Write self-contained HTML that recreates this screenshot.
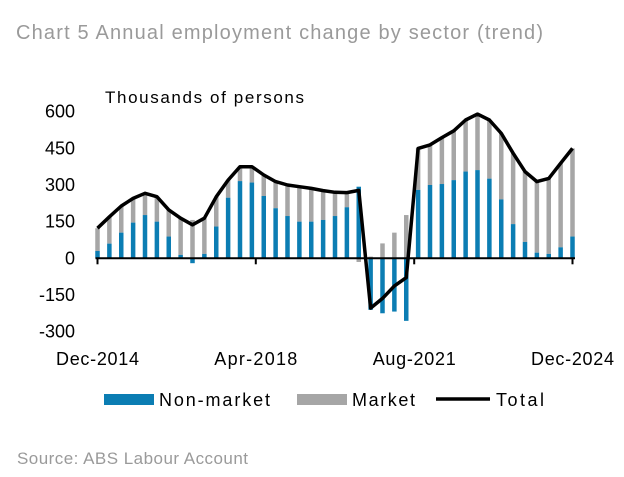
<!DOCTYPE html>
<html><head><meta charset="utf-8"><style>
body{margin:0;background:#fff}
svg{display:block;font-family:"Liberation Sans",sans-serif}
</style></head><body>
<svg id="chart" width="624" height="477" viewBox="0 0 624 477">
<text x="16" y="39" font-size="20" fill="#9a9a9a" textLength="527">Chart 5 Annual employment change by sector (trend)</text>
<text x="105" y="103" font-size="17" fill="#000" textLength="199">Thousands of persons</text>
<g id="bars"></g>
<g id="axes"></g>
<g id="legend">
<rect x="104" y="394" width="50" height="11" fill="#0b7db3"/>
<text x="159" y="406" font-size="18" textLength="111">Non-market</text>
<rect x="297" y="394" width="50" height="11" fill="#a6a6a6"/>
<text x="352" y="406" font-size="18" textLength="63">Market</text>
<line x1="436" y1="399" x2="490" y2="399" stroke="#000" stroke-width="3.5"/>
<text x="496" y="406" font-size="18" textLength="48">Total</text>
</g>
<text x="17" y="464" font-size="17" fill="#9a9a9a" textLength="231">Source: ABS Labour Account</text>
</svg>
<script>
const nonMarket=[30,60,105,146,177,150,89,14,-20,18,130,248,316,310,255,205,173,150,150,157,173,209,293,-211,-225,-218,-256,280,300,304,320,355,361,326,241,140,67,23,18,45,89];
const market=[93,110,109,99,89,102,109,150,157,146,122,72,59,65,86,109,127,143,136,120,97,60,-15,7,61,105,177,170,164,190,202,211,229,240,270,290,288,291,309,344,361];
const yTicks=[600,450,300,150,0,-150,-300];
const xLabels=["Dec-2014","Apr-2018","Aug-2021","Dec-2024"];
const xLabelIdx=[0,13.33,26.67,40];
const NS="http://www.w3.org/2000/svg";
const x0=97.5,x1=572.5,n=nonMarket.length;
function xs(i){return x0+i*(x1-x0)/(n-1);}
function ys(v){return 258.3-v*(36.65/150);}
function mk(tag,attrs,parent){const e=document.createElementNS(NS,tag);for(const k in attrs)e.setAttribute(k,attrs[k]);parent.appendChild(e);return e;}
const bars=document.getElementById('bars'),axes=document.getElementById('axes');
const bw=4.5;
for(let i=0;i<n;i++){
  const nm=nonMarket[i],m=market[i];
  let nb0=0,nb1=nm,mb0,mb1;
  if((nm>=0)===(m>=0)){mb0=nm;mb1=nm+m;}else{mb0=0;mb1=m;}
  const g=mk('rect',{x:xs(i)-bw/2,y:Math.min(ys(mb0),ys(mb1)),width:bw,height:Math.abs(ys(mb1)-ys(mb0)),fill:'#a6a6a6'},bars);
  
  
  const b=mk('rect',{x:xs(i)-bw/2,y:Math.min(ys(nb0),ys(nb1)),width:bw,height:Math.abs(ys(nb1)-ys(nb0)),fill:'#0b7db3'},bars);
  
  
}
let d='';
for(let i=0;i<n;i++){d+=(i?'L':'M')+xs(i).toFixed(1)+' '+ys(nonMarket[i]+market[i]).toFixed(1);}
const line=mk('path',{d:d,fill:'none',stroke:'#000','stroke-width':3.5,'stroke-linejoin':'round'},bars);


const ax=mk('line',{x1:95.5,x2:575,y1:ys(0),y2:ys(0),stroke:'#000','stroke-width':2},axes);


yTicks.forEach(v=>{
  const t=mk('text',{x:75,y:ys(v)+6,'font-size':18,'text-anchor':'end'},axes);
  t.textContent=v;
  
  
});
xLabels.forEach((l,k)=>{
  const x=xs(xLabelIdx[k]);
  const tk=mk('line',{x1:x,x2:x,y1:ys(0),y2:ys(0)+6,stroke:'#000','stroke-width':2},axes);
  
  
  const t=mk('text',{x:x,y:365,'font-size':18,'text-anchor':'middle',textLength:83},axes);
  t.textContent=l;
  
  
});
</script>
</body></html>
